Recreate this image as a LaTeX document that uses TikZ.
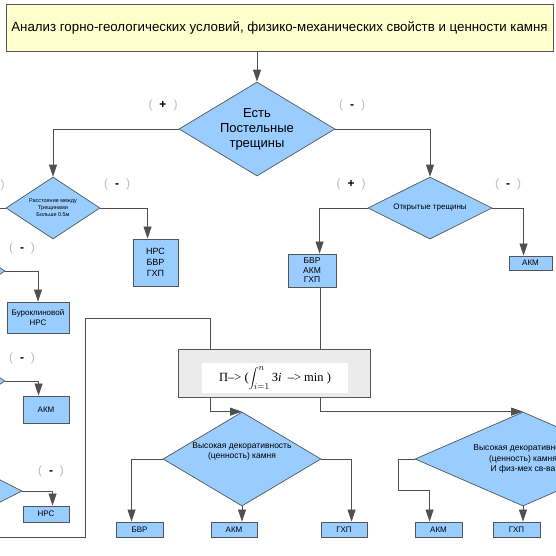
\documentclass[tikz,border=0pt]{standalone}
\usepackage{fontspec}
\setmainfont{Liberation Sans}
\newfontfamily\frmfont{Liberation Serif}
\usetikzlibrary{shapes.geometric,arrows.meta,calc}
\definecolor{dblue}{HTML}{99CCFF}
\definecolor{ylw}{HTML}{FFFFCC}
\definecolor{edgec}{HTML}{555555}
\definecolor{connc}{HTML}{505050}
\definecolor{parc}{HTML}{BBBBBB}
\definecolor{frmbg}{HTML}{EBEBEB}
\newcommand\sgn[1]{{\color{parc}(}\hspace{7pt}\textbf{#1}\hspace{7pt}{\color{parc})}}
\tikzset{
  dec/.style={diamond, aspect=1.7, draw=edgec, fill=dblue, inner sep=0pt, align=center, line width=0.7pt},
  blk/.style={rectangle, draw=edgec, fill=dblue, inner sep=0pt, align=center, line width=0.9pt},
  conn/.style={draw=connc, line width=0.8pt},
  arr/.style={conn, -{Triangle[width=8pt,length=12pt]}},
  signlbl/.style={font=\fontsize{12}{12}\selectfont, inner sep=0pt},
}
\begin{document}
\begin{tikzpicture}[x=1pt,y=-1pt]
\useasboundingbox (0,0) rectangle (556,555);
\clip (0,0) rectangle (556,555);

% top box
\node[draw=edgec, fill=ylw, line width=0.9pt, minimum width=547, minimum height=47, inner sep=0pt,
      font=\fontsize{13.3}{15}\selectfont] (top) at (279.5,27.5)
  {Анализ горно-геологических условий, физико-механических свойств и ценности камня};

% main diamond
\node[dec, minimum width=156, minimum height=94, font=\fontsize{13}{15}\selectfont] (d0) at (257,129)
  {Есть\\Постельные\\трещины};
\draw[arr] (top.south -| d0.north) -- (d0.north);

% left small diamond
\node[dec, minimum width=94, minimum height=62, font=\fontsize{5.5}{7}\selectfont] (d1) at (53,208)
  {Расстояние между\\Трещинами\\Больше 0.5м};
\draw[arr] (d0.west) -| (d1.north);
\coordinate (offA) at (-6,208);
\draw[conn] (d1.west) -- (offA);

\node[blk, minimum width=45, minimum height=47, font=\fontsize{9}{11}\selectfont] (b1) at (155.5,262.5)
  {НРС\\БВР\\ГХП};
\draw[arr] (d1.east) -| ([xshift=15pt]b1.north west);

% hidden diamonds on the left edge
\node[dec, minimum width=94, minimum height=62] (h2) at (-42,271) {};
\node[blk, minimum width=62, minimum height=31, font=\fontsize{8}{10}\selectfont] (b2) at (38,317.5)
  {Буроклиновой\\НРС};
\draw[arr] (h2.east) -| (b2.north);

\node[dec, minimum width=94, minimum height=62] (h3) at (-42,381) {};
\node[blk, minimum width=46, minimum height=27, font=\fontsize{8}{10}\selectfont] (b3) at (46,409.5) {АКМ};
\draw[arr] (h3.east) -| ([xshift=16pt]b3.north west);

\node[dec, minimum width=94, minimum height=48] (h4) at (-25,491) {};
\node[blk, minimum width=46, minimum height=16, font=\fontsize{8}{10}\selectfont] (b4) at (46,514) {НРС};
\draw[arr] (h4.east) -| ([xshift=30pt]b4.north west);

% right diamond "Открытые трещины"
\node[dec, minimum width=124, minimum height=62, font=\fontsize{8}{10}\selectfont] (d5) at (430,208)
  {Открытые трещины};
\draw[arr] (d0.east) -| (d5.north);
\node[blk, minimum width=48, minimum height=33, font=\fontsize{8.5}{9.5}\selectfont] (b5) at (312,270.5)
  {БВР\\АКМ\\ГХП};
\draw[arr] (d5.west) -| ([xshift=32pt]b5.north west);
\node[blk, minimum width=43, minimum height=14, font=\fontsize{8}{10}\selectfont] (b6) at (530.5,263) {АКМ};
\draw[arr] (d5.east) -| ([xshift=15pt]b6.north west);

% formula box
\node[draw=edgec, fill=frmbg, line width=0.9pt, minimum width=192, minimum height=48, inner sep=0pt] (F) at (274,373) {};
\node[fill=white, minimum width=146, minimum height=30, inner sep=0pt, font=\fontsize{12.5}{14}\selectfont] (Fw) at (275,378)
  {{\frmfont П–>\ (}$\displaystyle\int_{i=1}^{n}${\frmfont\,З\textit{i}\ \ –>\ min\ )}};
\draw[conn] ([xshift=33pt]b5.south west) -- ([xshift=33pt]b5.south west |- F.north);
\coordinate (offB) at (-6,537);
\coordinate (kB) at (85,318);
\draw[conn] (offB) -| (kB) -| ([xshift=33pt]F.north west);

% lower diamonds
\node[dec, minimum width=158, minimum height=94, font=\fontsize{8.5}{10}\selectfont] (d7) at (242,459)
  {Высокая декоративность\\(ценность) камня\\[6pt]};
\node[dec, minimum width=216, minimum height=94, font=\fontsize{8.5}{10.5}\selectfont] (d8) at (523,459)
  {Высокая декоративность\\(ценность) камня\\И физ-мех св-ва};
\draw[arr] ([xshift=33pt]F.south west) |- (d7.north);
\draw[arr] ([xshift=143pt]F.south west) |- (d8.north);

\node[blk, minimum width=47, minimum height=15, font=\fontsize{8}{10}\selectfont] (b7) at (139.5,529.5) {БВР};
\node[blk, minimum width=46, minimum height=15, font=\fontsize{8}{10}\selectfont] (b8) at (234,529.5) {АКМ};
\node[blk, minimum width=46, minimum height=15, font=\fontsize{8}{10}\selectfont] (b9) at (344,529.5) {ГХП};
\draw[arr] (d7.west) -| ([xshift=16pt]b7.north west);
\draw[arr] (d7.south) -- (d7.south |- b8.north);
\draw[arr] (d7.east) -| ([xshift=31pt]b9.north west);

\node[blk, minimum width=47, minimum height=15, font=\fontsize{8}{10}\selectfont] (b10) at (438.5,529.5) {АКМ};
\node[blk, minimum width=47, minimum height=15, font=\fontsize{8}{10}\selectfont] (b11) at (516.5,529.5) {ГХП};
\coordinate (kC) at (398,490);
\draw[arr] (d8.west) -| (kC) -| ([xshift=15pt]b10.north west);
\draw[arr] (d8.south) -- (d8.south |- b11.north);

% branch labels
\node[signlbl] (s1) at (163,105) {\sgn{+}};
\node[signlbl] (s2) at (352,105) {\sgn{-}};
\node[signlbl] (s3) at (-10,185) {\sgn{+}};
\node[signlbl] (s4) at (117,184) {\sgn{-}};
\node[signlbl] (s5) at (22,248) {\sgn{-}};
\node[signlbl] (s6) at (22,358) {\sgn{-}};
\node[signlbl] (s7) at (51,471) {\sgn{-}};
\node[signlbl] (s8) at (351,184) {\sgn{+}};
\node[signlbl] (s9) at (508,184) {\sgn{-}};
\end{tikzpicture}
\end{document}
